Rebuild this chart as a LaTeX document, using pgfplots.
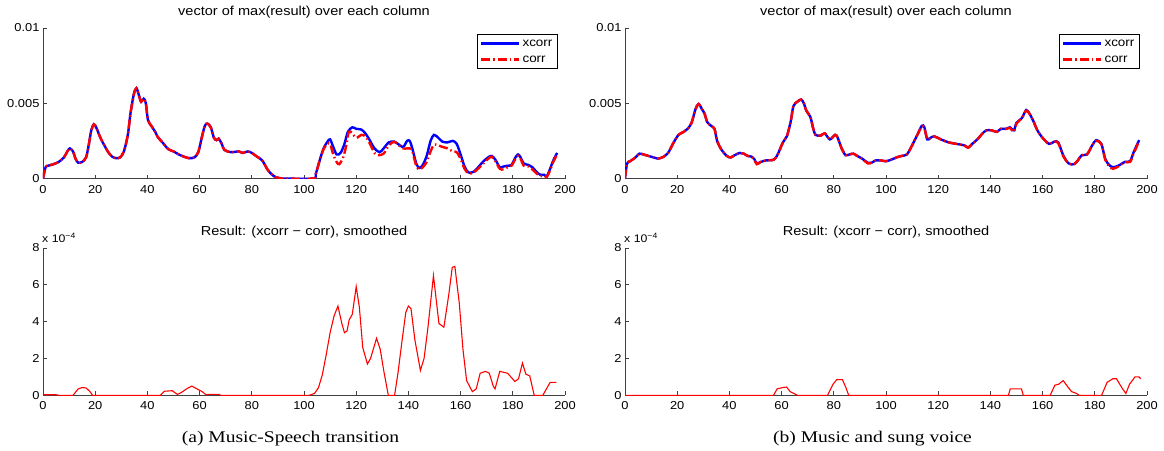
\documentclass[border=0pt]{standalone}
\usepackage{fontspec}
\setmainfont{Liberation Sans}[FakeStretch=1.12]
\newfontfamily\capfont{Liberation Serif}[FakeStretch=1.2]
\usepackage{pgfplots}
\pgfplotsset{compat=1.18}
\definecolor{axgray}{HTML}{404040}
\pgfplotsset{
  base/.style={
    scale only axis, width=522pt,
    xmin=0, xmax=200, xtick={0,20,...,200},
    axis x line*=bottom, axis y line*=left,
    axis line style={axgray, line width=0.9pt, -},
    every outer x axis line/.append style={-},
    every outer y axis line/.append style={-},
    tick align=inside, major tick length=4pt,
    tick style={axgray, line width=0.8pt},
    every tick label/.append style={font=\fontsize{11.5}{13}\selectfont},
    xticklabel style={yshift=-3pt},
    /pgf/number format/assume math mode=true,
    title style={font=\fontsize{13}{15}\selectfont, at={(0.5,1)}, anchor=base, yshift=7pt},
  },
  topax/.style={base, height=150.5pt, ymin=0, ymax=10, ytick={0,5,10}, yticklabels={0,0.005,0.01},
    title={vector of max(result) over each column},
    legend style={at={(1,1)}, anchor=north east, xshift=-7pt, yshift=-6pt, draw=black, line width=1.2pt,
      font=\fontsize{12}{14}\selectfont, legend cell align=left, row sep=4pt, inner xsep=3pt, inner ysep=3pt},
    legend image code/.code={\draw[##1] (0pt,0pt) -- (38pt,0pt);},
  },
  botax/.style={base, height=147.3pt, ymin=0, ymax=8, ytick={0,2,...,8},
    title={Result: (xcorr − corr), smoothed}},
  xc/.style={blue, line width=2.4pt, smooth, tension=0.5},
  co/.style={red, line width=2.4pt, smooth, tension=0.5, dash pattern=on 9pt off 3pt on 1.5pt off 3pt},
  df/.style={red, line width=1.1pt},
}

\pgfplotstableread{
x y
0 0
1 0.75
2 0.85
4 0.95
6 1.1
8 1.4
9.5 1.85
10.3 2.0
11.5 1.8
12.5 1.3
13.5 1.05
15 1.1
16.5 1.4
17.5 2.2
18.5 3.2
19.5 3.6
20.5 3.35
22 2.7
23.5 2.2
25 1.75
26.5 1.45
28 1.35
29.5 1.4
31 1.8
32.5 2.9
33.5 4.3
34.8 5.6
35.8 6.0
36.8 5.5
37.6 5.1
38.6 5.3
39.4 5.0
40.2 3.9
41.5 3.5
43 3.1
44 2.75
46 2.35
48 1.95
50 1.8
52 1.6
54 1.45
56 1.35
58 1.4
59.5 1.75
60.8 2.7
62 3.5
63 3.65
64.3 3.4
65.5 2.7
66.5 2.55
67.3 2.65
68.5 2.3
69.5 1.9
72 1.75
75 1.8
76.5 1.7
78.5 1.8
80 1.7
82 1.45
84 1.2
86 0.6
87.5 0.3
89 0.1
91 0.02
92 0
103.5 0
104.5 0.3
106 1.2
107.5 2.0
109 2.45
110 2.6
111.2 2.1
112.5 1.6
114 1.7
115.5 2.3
116.8 3.1
118.5 3.4
120 3.3
122 3.25
123.5 3.0
125 2.6
127 2.0
129 1.75
130.5 2.0
132.5 2.4
134.5 2.45
136 2.3
138 2.1
139.5 2.5
140.5 2.5
141.5 2.0
143 1.0
144.2 0.7
145.5 0.9
147 1.5
148.5 2.5
149.8 2.9
151.5 2.7
153 2.45
155 2.4
157 2.5
158.5 2.3
160 1.6
161.5 0.8
163 0.4
165 0.45
167 0.8
168.5 1.1
170.5 1.4
172 1.5
173.5 1.2
175 0.75
176.5 0.8
178 0.85
179.5 0.9
181 1.4
182 1.6
183 1.4
184.2 1.0
186 0.9
187.5 0.75
189 0.45
190.5 0.25
192 0.25
193 0.15
194.2 0.6
195.5 1.2
197 1.7
}\XcA

\pgfplotstableread{
x y
0 0
1 0.75
2 0.85
4 0.95
6 1.1
8 1.4
9.5 1.85
10.3 2.0
11.5 1.8
12.5 1.3
13.5 1.05
15 1.1
16.5 1.4
17.5 2.2
18.5 3.2
19.5 3.6
20.5 3.35
22 2.7
23.5 2.2
25 1.75
26.5 1.45
28 1.35
29.5 1.4
31 1.8
32.5 2.9
33.5 4.3
34.8 5.6
35.8 6.0
36.8 5.5
37.6 5.1
38.6 5.3
39.4 5.0
40.2 3.9
41.5 3.5
43 3.1
44 2.75
46 2.35
48 1.95
50 1.8
52 1.6
54 1.45
56 1.35
58 1.4
59.5 1.75
60.8 2.7
62 3.5
63 3.65
64.3 3.4
65.5 2.7
66.5 2.55
67.3 2.65
68.5 2.3
69.5 1.9
72 1.75
75 1.8
76.5 1.7
78.5 1.8
80 1.7
82 1.45
84 1.2
86 0.6
87.5 0.3
89 0.1
91 0.02
92 0
103.5 0
104.5 0.3
106 1.2
107.5 1.95
109 2.3
110 2.3
111.2 1.6
112.5 1.1
113.5 0.95
115 1.4
116.2 2.2
117.2 3.1
118.5 3.0
120 2.7
122 2.9
123.5 2.8
125 2.4
127 1.7
128.5 1.55
130.5 1.65
132.5 2.2
134.5 2.45
136 2.25
138 2.0
139.5 2.0
140.5 2.0
141.5 1.8
143 0.85
144.2 0.6
145.5 0.75
147 1.1
148.5 1.8
149.8 2.25
151.5 2.2
153 2.1
155 2.0
157 1.8
158.5 1.75
160 1.3
161.5 0.65
163 0.35
165 0.4
167 0.7
168.5 0.95
170.5 1.3
172 1.45
173.5 1.1
175 0.65
176.5 0.6
178 0.75
179.5 0.85
181 1.3
182 1.5
183 1.3
184.2 0.85
186 0.8
187.5 0.6
189 0.35
190.5 0.15
192 0.2
193 0.1
194.2 0.5
195.5 1.1
197 1.6
}\CoA

\pgfplotstableread{
x y
0 0
0.8 1.0
2 1.15
4 1.4
5.5 1.65
7 1.6
9 1.5
11 1.4
12.5 1.32
14.5 1.42
16.5 1.7
18.5 2.35
20.5 2.9
22.5 3.1
24 3.3
25.5 3.7
27 4.6
28.2 4.95
29.5 4.6
30.5 4.3
31.5 3.75
33 3.5
34.3 3.3
35.3 2.5
37 1.9
39 1.5
40.5 1.4
42 1.55
44 1.7
45.5 1.65
47 1.5
48.5 1.45
49.5 1.3
50.5 1.0
52 1.1
54 1.2
57 1.25
58.5 1.6
60.5 2.4
62 2.8
63.5 3.8
64.5 4.8
66 5.1
67.5 5.25
68.5 5.0
69.5 4.5
71 4.1
72 3.4
73 2.9
75 2.85
76.5 3.0
78.5 2.6
80.5 2.9
81.5 2.7
83 2.0
84.5 1.55
86 1.6
87.5 1.65
89 1.5
91 1.3
93 1.05
94.5 1.05
96 1.2
98 1.2
100 1.15
102 1.25
104 1.4
106 1.5
108 1.6
110 2.2
112 2.9
113.7 3.5
114.7 3.4
115.8 2.6
117 2.7
118.5 2.8
121 2.6
124 2.4
127 2.3
130 2.2
131.5 2.05
133 2.3
135 2.6
137 3.0
138.5 3.2
140.5 3.2
142.5 3.1
144 3.3
146 3.3
147.5 3.4
149 3.2
150 3.7
152 4.0
153.7 4.55
155 4.3
156.5 3.8
158 3.2
160 2.7
162.5 2.3
164.5 2.45
166 2.4
168 1.5
170 1.0
172 0.95
173.5 1.2
175 1.55
177 1.6
179 2.2
180.5 2.55
182.5 2.3
184 1.3
185.5 0.9
187 0.75
189 0.85
191.5 1.1
193.5 1.15
195 1.8
197 2.55
}\XcB

\pgfplotstableread{
x y
0 0
0.8 1.0
2 1.15
4 1.4
5.5 1.65
7 1.6
9 1.5
11 1.4
12.5 1.32
14.5 1.42
16.5 1.7
18.5 2.35
20.5 2.9
22.5 3.1
24 3.3
25.5 3.7
27 4.6
28.2 4.95
29.5 4.6
30.5 4.3
31.5 3.75
33 3.5
34.3 3.3
35.3 2.5
37 1.9
39 1.5
40.5 1.4
42 1.55
44 1.7
45.5 1.65
47 1.5
48.5 1.45
49.5 1.25
50.5 0.95
52 1.1
54 1.2
57 1.25
58.5 1.6
60.5 2.4
62 2.8
63.5 3.8
64.5 4.8
66 5.1
67.5 5.25
68.5 5.0
69.5 4.5
71 4.1
72 3.4
73 2.9
75 2.85
76.5 3.0
78.5 2.6
80.5 2.9
81.5 2.7
83 2.0
84.5 1.55
86 1.6
87.5 1.65
89 1.5
91 1.3
93 1.0
94.5 1.05
96 1.2
98 1.2
100 1.15
102 1.25
104 1.4
106 1.5
108 1.6
110 2.2
112 2.9
113.7 3.45
114.7 3.35
115.8 2.6
117 2.7
118.5 2.8
121 2.6
124 2.4
127 2.3
130 2.2
131.5 2.05
133 2.3
135 2.6
137 3.0
138.5 3.2
140.5 3.2
142.5 3.1
144 3.3
146 3.3
147.5 3.35
149 3.1
150 3.65
152 4.0
153.7 4.5
155 4.3
156.5 3.8
158 3.2
160 2.7
162.5 2.3
164.5 2.45
166 2.35
168 1.45
170 1.0
172 0.95
173.5 1.2
175 1.55
177 1.6
179 2.2
180.5 2.5
182.5 2.3
184 1.25
185.5 0.8
187 0.65
189 0.8
191.5 1.1
193.5 1.1
195 1.7
197 2.5
}\CoB

\pgfplotstableread{
x y
0 0.03
5 0.03
6 0
11.5 0
13.5 0.35
15 0.42
16.5 0.4
18 0.2
19 0
45 0
46.5 0.22
49.5 0.25
51.5 0.05
53 0.15
55 0.35
57 0.5
59 0.35
61 0.2
62.5 0.02
63.5 0.05
67.5 0.05
68 0
102 0
104 0.1
105.5 0.4
107 1.1
108.5 2.2
110 3.4
111.5 4.3
113 4.85
114.5 3.9
115.5 3.4
116.5 3.5
117.3 4.1
118.5 4.4
120 5.9
121.2 4.8
122.5 2.6
124.3 1.7
125.5 2.0
127.8 3.1
129.2 2.5
130.6 1.3
132.3 0
134.7 0
136 1.2
137.5 2.9
139 4.5
140 4.85
141 4.7
142.5 3.0
144.6 1.35
146 2.0
147.5 3.7
149.6 6.5
151.7 3.9
153.6 3.7
155.5 5.5
156.8 6.95
157.8 7.0
159.5 5.0
160.9 2.5
162.3 0.8
164.5 0.2
166 0.35
167.5 1.2
169.5 1.3
171 1.2
172.5 0.5
173.2 0.35
175 1.3
178 1.2
180.8 0.75
182.2 0.9
183.7 1.75
185 1.15
186.5 1.05
188.2 0
191.5 0
194.3 0.7
196.7 0.7
}\DfA

\pgfplotstableread{
x y
0 0
56.9 0
58.3 0.35
60.4 0.42
61.9 0.45
63.3 0.2
64.7 0.1
66.1 0
77.6 0
79.7 0.6
81.1 0.85
83.3 0.85
84.7 0.4
85.7 0
146.9 0
147.6 0.35
151.9 0.35
152.6 0
162.9 0
164.7 0.55
166.1 0.6
167.9 0.8
169.7 0.45
171.1 0.2
173 0.1
174 0
182.6 0
184.7 0.7
186.9 0.9
188.3 0.9
190.4 0.4
191.9 0.1
193.3 0.6
195.4 1.0
196.9 1.0
197.6 0.9
}\DfB

\begin{document}
\begin{tikzpicture}
\useasboundingbox (0,0) rectangle (1164pt,-450pt);

\begin{axis}[topax, at={(43pt,-178.5pt)}, anchor=south west]
\addplot[xc] table {\XcA};
\addlegendentry{xcorr}
\addplot[co] table {\CoA};
\addlegendentry{corr}
\end{axis}

\begin{axis}[topax, at={(625pt,-178.5pt)}, anchor=south west]
\addplot[xc] table {\XcB};
\addlegendentry{xcorr}
\addplot[co] table {\CoB};
\addlegendentry{corr}
\end{axis}

\begin{axis}[botax, at={(43pt,-395.3pt)}, anchor=south west]
\addplot[df] table {\DfA};
\end{axis}

\begin{axis}[botax, at={(625pt,-395.3pt)}, anchor=south west]
\addplot[df] table {\DfB};
\end{axis}

\node[anchor=base west, font=\fontsize{11}{13}\selectfont, inner sep=0pt] at (42pt,-242pt) {x 10\textsuperscript{−4}};
\node[anchor=base west, font=\fontsize{11}{13}\selectfont, inner sep=0pt] at (624pt,-242pt) {x 10\textsuperscript{−4}};

\node[anchor=base, font=\capfont\fontsize{16.3}{18}\selectfont, inner sep=0pt] at (290.5pt,-442pt) {(a) Music-Speech transition};
\node[anchor=base, font=\capfont\fontsize{16.3}{18}\selectfont, inner sep=0pt] at (872.5pt,-442pt) {(b) Music and sung voice};
\end{tikzpicture}
\end{document}
